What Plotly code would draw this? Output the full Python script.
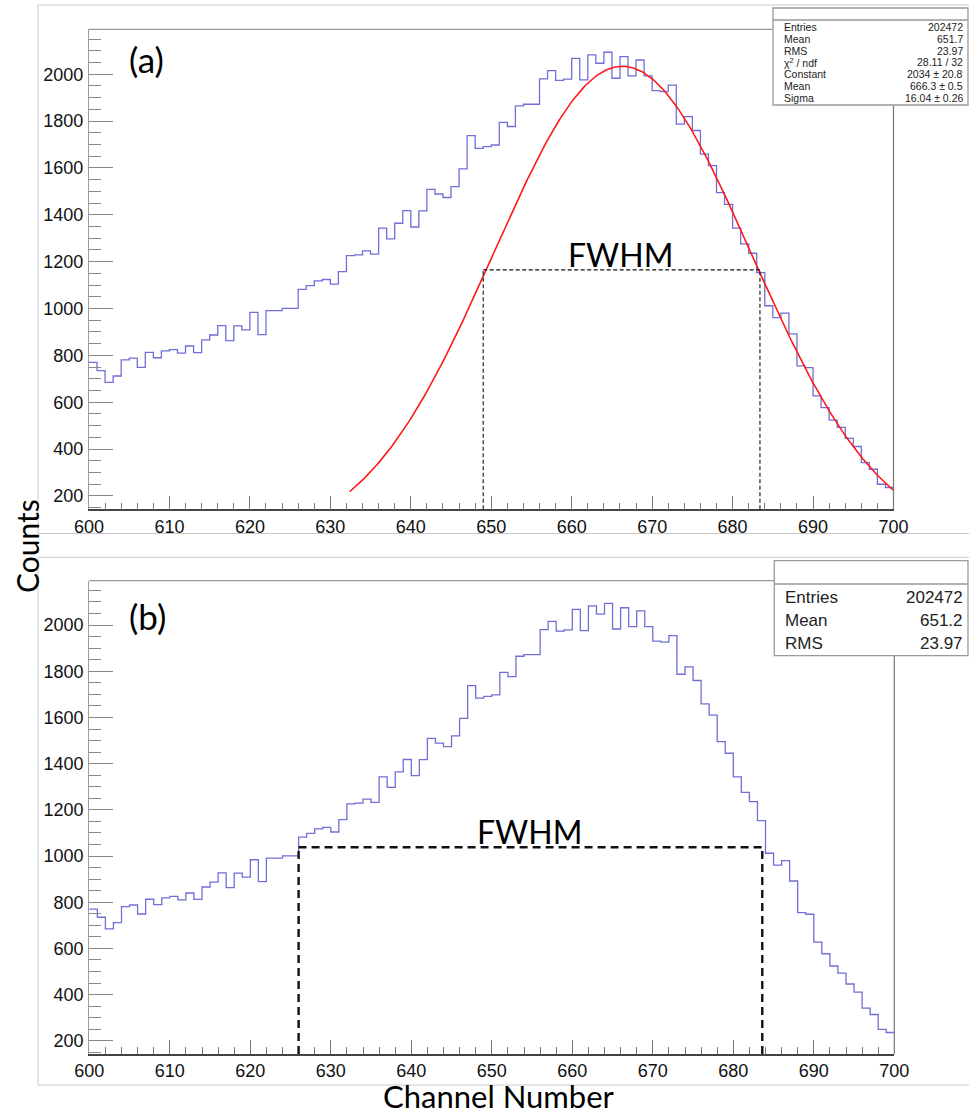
import plotly.graph_objects as go
import numpy as np

W, H = 969, 1114

# ---------------- data ----------------
bin_low_edges = list(range(600, 700))          # 1-channel bins, 600..699
bin_width = 1
counts = [
    770, 735, 685, 712, 781, 788, 749, 813, 790, 819,
    825, 810, 840, 812, 866, 887, 927, 863, 926, 909,
    984, 889, 991, 991, 1001, 1001, 1082, 1098, 1118, 1124,
    1104, 1158, 1226, 1229, 1246, 1232, 1343, 1297, 1364, 1418,
    1348, 1417, 1509, 1489, 1474, 1520, 1596, 1738, 1684, 1691,
    1698, 1795, 1777, 1865, 1872, 1872, 1980, 2016, 1974, 1979,
    2068, 1976, 2083, 2047, 2094, 1983, 2075, 1993, 2061, 1993,
    1930, 1926, 1954, 1787, 1819, 1760, 1659, 1610, 1495, 1445,
    1343, 1276, 1236, 1153, 1012, 961, 980, 892, 755, 748,
    627, 577, 524, 493, 446, 411, 342, 314, 250, 236,
]

# Gaussian fit parameters (from stats box)
fit_constant = 2034
fit_mean = 666.3
fit_sigma = 16.04
fit_range = [632.4, 700]

stats_a_labels = ["Entries", "Mean", "RMS", "χ<sup>2</sup> / ndf", "Constant", "Mean", "Sigma"]
stats_a_values = ["202472", "651.7", "23.97", "28.11 / 32", "2034 ± 20.8", "666.3 ± 0.5", "16.04 ± 0.26"]
stats_b_labels = ["Entries", "Mean", "RMS"]
stats_b_values = ["202472", "651.2", "23.97"]

fwhm_a = [649.0, 683.4, 1165]   # x_left, x_right, level
fwhm_b = [626.0, 683.6, 1038]

x_range = [600, 700]
y_range = [143, 2192]

# ---------------- helpers ----------------
def px(x):
    return x / W

def py(y):
    return 1 - y / H

step_x = bin_low_edges + [bin_low_edges[-1] + bin_width]
step_y = counts + [counts[-1]]

fx = np.linspace(fit_range[0], fit_range[1], 300)
fy = fit_constant * np.exp(-0.5 * ((fx - fit_mean) / fit_sigma) ** 2)

hist_color = "#6f6fd6"
fig = go.Figure()
fig.add_trace(go.Scatter(x=step_x, y=step_y, mode="lines", line=dict(color=hist_color, width=1.3, shape="hv"),
                         xaxis="x", yaxis="y", showlegend=False, hoverinfo="skip"))
fig.add_trace(go.Scatter(x=fx, y=fy, mode="lines", line=dict(color="#ff1a1a", width=1.6),
                         xaxis="x", yaxis="y", showlegend=False, hoverinfo="skip"))
fig.add_trace(go.Scatter(x=step_x, y=step_y, mode="lines", line=dict(color=hist_color, width=1.3, shape="hv"),
                         xaxis="x2", yaxis="y2", showlegend=False, hoverinfo="skip"))

# plot-area pixel boxes
A = dict(x0=89, x1=893.5, y0=29.3, y1=509.3)
B = dict(x0=89.3, x1=894.3, y0=580.7, y1=1054)

tickfont = dict(family="Liberation Sans, Arial, sans-serif", size=18, color="#111")

def xaxis_cfg(box):
    return dict(domain=[px(box["x0"]), px(box["x1"])], range=x_range, tick0=600, dtick=10,
                ticks="inside", ticklen=14, tickwidth=1, tickcolor="#777",
                minor=dict(dtick=2, ticks="inside", ticklen=7, tickwidth=1, tickcolor="#777", showgrid=False),
                showline=True, linecolor="#444", linewidth=1.6, showgrid=False, zeroline=False,
                tickfont=tickfont, ticklabelstandoff=0, fixedrange=True, automargin=False)

def yaxis_cfg(box, anchor):
    return dict(domain=[py(box["y1"]), py(box["y0"])], range=y_range, tick0=0, dtick=200,
                ticks="inside", ticklen=24, tickwidth=1.2, tickcolor="#888",
                minor=dict(dtick=50, ticks="inside", ticklen=12, tickwidth=1.2, tickcolor="#888", showgrid=False),
                showline=True, linecolor="#999", linewidth=1.2, showgrid=False, zeroline=False,
                tickfont=tickfont, ticklabelstandoff=1, anchor=anchor, fixedrange=True, automargin=False)

shapes = []
annotations = []

# pad frames
for (t, b) in [(5, 533.5), (557.3, 1085)]:
    shapes.append(dict(type="rect", xref="paper", yref="paper", x0=px(38), x1=px(975), y0=py(b), y1=py(t),
                       line=dict(color="#c8c8c8", width=1), fillcolor="rgba(0,0,0,0)", layer="below"))

# frame top & right lines
for box in (A, B):
    shapes.append(dict(type="line", xref="paper", yref="paper", x0=px(box["x0"]), x1=px(box["x1"]),
                       y0=py(box["y0"]), y1=py(box["y0"]), line=dict(color="#999", width=1.2)))
    shapes.append(dict(type="line", xref="paper", yref="paper", x0=px(box["x1"]), x1=px(box["x1"]),
                       y0=py(box["y0"]), y1=py(box["y1"]), line=dict(color="#777", width=1.2)))

# FWHM lines panel a
xl, xr, lv = fwhm_a
dash_a = dict(color="#111", width=1.1, dash="4px,2.5px")
shapes.append(dict(type="line", xref="x", yref="y", x0=xl, x1=xr, y0=lv, y1=lv, line=dash_a))
shapes.append(dict(type="line", xref="x", yref="y", x0=xl, x1=xl, y0=y_range[0], y1=lv, line=dash_a))
shapes.append(dict(type="line", xref="x", yref="y", x0=xr, x1=xr, y0=y_range[0], y1=lv, line=dash_a))
# FWHM lines panel b
xl, xr, lv = fwhm_b
dash_b = dict(color="#111", width=2.4, dash="8px,5px")
shapes.append(dict(type="line", xref="x2", yref="y2", x0=xl, x1=xr, y0=lv, y1=lv, line=dash_b))
shapes.append(dict(type="line", xref="x2", yref="y2", x0=xl, x1=xl, y0=y_range[0], y1=lv, line=dash_b))
shapes.append(dict(type="line", xref="x2", yref="y2", x0=xr, x1=xr, y0=y_range[0], y1=lv, line=dash_b))

# stats boxes
def stats_box(x0, x1, top, sep, bottom, labels, values, fsize, row_y, lab_x, val_x):
    shapes.append(dict(type="rect", xref="paper", yref="paper", x0=px(x0), x1=px(x1), y0=py(bottom), y1=py(top),
                       line=dict(color="#999", width=1.3), fillcolor="white", layer="above"))
    shapes.append(dict(type="line", xref="paper", yref="paper", x0=px(x0), x1=px(x1), y0=py(sep), y1=py(sep),
                       line=dict(color="#999", width=1.3)))
    for i, (lab, val) in enumerate(zip(labels, values)):
        yy = row_y[0] + i * row_y[1]
        annotations.append(dict(xref="paper", yref="paper", x=px(lab_x), y=py(yy), text=lab, showarrow=False,
                                xanchor="left", yanchor="middle",
                                font=dict(family="Liberation Sans, Arial, sans-serif", size=fsize, color="#222")))
        annotations.append(dict(xref="paper", yref="paper", x=px(val_x), y=py(yy), text=val, showarrow=False,
                                xanchor="right", yanchor="middle",
                                font=dict(family="Liberation Sans, Arial, sans-serif", size=fsize, color="#222")))

stats_box(773, 968, 8, 20, 105, stats_a_labels, stats_a_values, 10.5, (27, 11.8), 782, 965)
stats_box(774.3, 968, 560.7, 584, 655.7, stats_b_labels, stats_b_values, 17, (597, 23.3), 783, 965)

lato = "Lato, Open Sans, sans-serif"
annotations += [
    dict(xref="paper", yref="paper", x=px(146), y=py(59), text="(a)", showarrow=False,
         xanchor="center", yanchor="middle", font=dict(family=lato, size=35, color="#000")),
    dict(xref="paper", yref="paper", x=px(147), y=py(616), text="(b)", showarrow=False,
         xanchor="center", yanchor="middle", font=dict(family=lato, size=35, color="#000")),
    dict(xref="paper", yref="paper", x=px(620), y=py(254), text="FWHM", showarrow=False,
         xanchor="center", yanchor="middle", font=dict(family=lato, size=32, color="#000")),
    dict(xref="paper", yref="paper", x=px(529), y=py(831), text="FWHM", showarrow=False,
         xanchor="center", yanchor="middle", font=dict(family=lato, size=32, color="#000")),
    dict(xref="paper", yref="paper", x=px(27), y=py(546), text="Counts", showarrow=False, textangle=-90,
         xanchor="center", yanchor="middle", font=dict(family=lato, size=30, color="#000")),
    dict(xref="paper", yref="paper", x=px(499), y=py(1096), text="Channel Number", showarrow=False,
         xanchor="center", yanchor="middle", font=dict(family=lato, size=31, color="#000")),
]

fig.update_layout(
    width=W, height=H, margin=dict(l=0, r=0, t=0, b=0),
    paper_bgcolor="white", plot_bgcolor="white",
    xaxis=xaxis_cfg(A) | dict(anchor="y"),
    yaxis=yaxis_cfg(A, "x"),
    xaxis2=xaxis_cfg(B) | dict(anchor="y2"),
    yaxis2=yaxis_cfg(B, "x2"),
    shapes=shapes, annotations=annotations, showlegend=False,
)

fig.write_html("out.html")
